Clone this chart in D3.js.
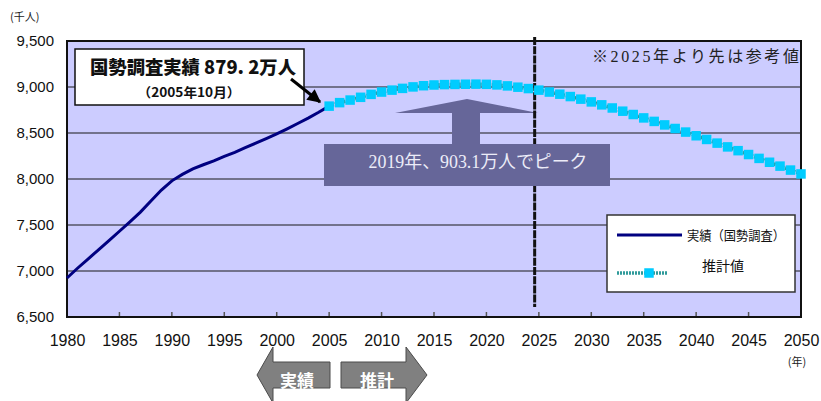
<!DOCTYPE html>
<html>
<head>
<meta charset="utf-8">
<script src="https://cdn.jsdelivr.net/npm/d3@7"></script>
<style>
  html, body { margin: 0; padding: 0; background: #ffffff; }
  svg { display: block; }
</style>
</head>
<body>
<svg id="chart" width="821" height="401"></svg>
<script>
// Census results (thousand people), 1980-2005
const actualYears = [1980,1981,1982,1983,1984,1985,1986,1987,1988,1989,1990,1991,1992,1993,1994,1995,1996,1997,1998,1999,2000,2001,2002,2003,2004,2005];
const actualValues = [6924,7030,7130,7230,7330,7432,7535,7640,7760,7880,7980,8050,8110,8155,8198,8246,8290,8340,8390,8440,8490,8545,8603,8662,8725,8792];

// Projection (thousand people), 2005-2050
const projYears = d3.range(2005, 2051);
const projValues = [8792,8830,8858,8888,8920,8945,8966,8985,9001,9014,
                    9022,9026,9028,9030,9031,9029,9023,9012,8998,8983,
                    8966,8945,8922,8896,8868,8838,8806,8772,8737,8701,
                    8664,8626,8588,8549,8510,8470,8430,8390,8349,8308,
                    8266,8224,8182,8140,8097,8055];

const xTickValues = [1980,1985,1990,1995,2000,2005,2010,2015,2020,2025,2030,2035,2040,2045,2050];
const yTickValues = [6500,7000,7500,8000,8500,9000,9500];

const seriesNames = ["実績（国勢調査）", "推計値"];
const calloutTitle = "国勢調査実績 879. 2万人";
const calloutSub = "（2005年10月）";
const peakText = "2019年、903.1万人でピーク";
const noteText = "※2025年より先は参考値";
const referenceYear = 2024.6;

const CJK = "'Noto Sans CJK JP', sans-serif";
const SERIF = "'Liberation Serif', 'Noto Sans CJK JP', serif";

const svg = d3.select("#chart");
const plotL = 67, plotR = 801, plotT = 41, plotB = 317;

const x = d3.scaleLinear().domain([1980, 2050]).range([plotL, plotR]);
const y = d3.scaleLinear().domain([6500, 9500]).range([plotB, plotT]);

// plot background
svg.append("rect")
  .attr("x", plotL).attr("y", plotT)
  .attr("width", plotR - plotL).attr("height", plotB - plotT)
  .attr("fill", "#ccccff");

// horizontal gridlines
svg.append("g")
  .selectAll("line")
  .data(yTickValues.slice(1, -1))
  .join("line")
  .attr("x1", plotL).attr("x2", plotR)
  .attr("y1", d => y(d)).attr("y2", d => y(d))
  .attr("stroke", "#555566").attr("stroke-width", 1.5);

// y axis labels
const yAxis = d3.axisLeft(y).tickValues(yTickValues).tickFormat(d3.format(",")).tickSize(0).tickPadding(13);
svg.append("g")
  .attr("transform", `translate(${plotL},0)`)
  .call(yAxis)
  .call(g => g.select(".domain").remove())
  .selectAll("text")
  .attr("font-family", "'Liberation Sans', Arial, sans-serif")
  .attr("font-size", 15)
  .attr("fill", "#111");

// x axis: labels + inner ticks
const xAxis = d3.axisBottom(x).tickValues(xTickValues).tickFormat(d3.format("d")).tickSize(0).tickPadding(18);
svg.append("g")
  .attr("transform", `translate(0,${plotB})`)
  .call(xAxis)
  .call(g => g.select(".domain").remove())
  .selectAll("text")
  .attr("font-family", "'Liberation Sans', Arial, sans-serif")
  .attr("font-size", 16)
  .attr("fill", "#111");

svg.append("g")
  .selectAll("line")
  .data(xTickValues.slice(1, -1))
  .join("line")
  .attr("x1", d => x(d)).attr("x2", d => x(d))
  .attr("y1", plotB).attr("y2", plotB - 5)
  .attr("stroke", "#555").attr("stroke-width", 1.5);

// plot border
svg.append("rect")
  .attr("x", plotL).attr("y", plotT)
  .attr("width", plotR - plotL).attr("height", plotB - plotT)
  .attr("fill", "none").attr("stroke", "#111").attr("stroke-width", 2);

// axis unit labels
svg.append("text").attr("x", 10).attr("y", 21)
  .attr("font-family", CJK).attr("font-size", 11).attr("fill", "#222")
  .text("(千人)");
svg.append("text").attr("x", 797).attr("y", 366).attr("text-anchor", "middle")
  .attr("font-family", CJK).attr("font-size", 11).attr("fill", "#222")
  .text("(年)");

// note
svg.append("text")
  .attr("x", 592).attr("y", 62)
  .attr("font-family", SERIF).attr("font-size", 16).attr("fill", "#222")
  .attr("textLength", 207).attr("lengthAdjust", "spacing")
  .text(noteText);

// peak annotation: up arrow
const arrowColor = "#666699";
svg.append("path")
  .attr("d", "M467,99 L538,113 L480,113 L480,146 L452,146 L452,113 L395,113 Z")
  .attr("fill", arrowColor);

// boundary year for reference values
svg.append("line")
  .attr("x1", x(referenceYear)).attr("x2", x(referenceYear))
  .attr("y1", 37).attr("y2", 307)
  .attr("stroke", "#111").attr("stroke-width", 3)
  .attr("stroke-dasharray", "8,1.2");

// peak label box
svg.append("rect")
  .attr("x", 324).attr("y", 144).attr("width", 286).attr("height", 42)
  .attr("fill", arrowColor);
svg.append("text")
  .attr("x", 478).attr("y", 168).attr("text-anchor", "middle")
  .attr("font-family", SERIF).attr("font-size", 18).attr("fill", "#ececf8")
  .attr("textLength", 219).attr("lengthAdjust", "spacingAndGlyphs")
  .text(peakText);

// series: actual
const line = d3.line().x(d => x(d[0])).y(d => y(d[1]));
svg.append("path")
  .datum(d3.zip(actualYears, actualValues))
  .attr("d", line)
  .attr("fill", "none").attr("stroke", "#000080").attr("stroke-width", 3);

// series: projection
const projData = d3.zip(projYears, projValues);
svg.append("path")
  .datum(projData)
  .attr("d", line)
  .attr("fill", "none").attr("stroke", "#2f9a9a").attr("stroke-width", 3.5)
  .attr("stroke-dasharray", "2,1");
const ms = 9.5;
svg.append("g")
  .selectAll("rect")
  .data(projData)
  .join("rect")
  .attr("x", d => x(d[0]) - ms / 2).attr("y", d => y(d[1]) - ms / 2)
  .attr("width", ms).attr("height", ms)
  .attr("fill", "#00ccff");

// callout
svg.append("rect")
  .attr("x", 75).attr("y", 49).attr("width", 229).attr("height", 56)
  .attr("fill", "#fff").attr("stroke", "#111").attr("stroke-width", 1.5);
svg.append("text")
  .attr("x", 193).attr("y", 74).attr("text-anchor", "middle")
  .attr("font-family", CJK).attr("font-size", 18).attr("font-weight", "900").attr("fill", "#111")
  .attr("textLength", 206).attr("lengthAdjust", "spacingAndGlyphs")
  .text(calloutTitle);
svg.append("text")
  .attr("x", 189).attr("y", 97).attr("text-anchor", "middle")
  .attr("font-family", CJK).attr("font-size", 13).attr("font-weight", "bold").attr("fill", "#111")
  .attr("textLength", 103).attr("lengthAdjust", "spacingAndGlyphs")
  .text(calloutSub);

const defs = svg.append("defs");
defs.append("marker")
  .attr("id", "head").attr("viewBox", "0 0 10 10")
  .attr("refX", 9).attr("refY", 5)
  .attr("markerWidth", 5).attr("markerHeight", 4.5)
  .attr("markerUnits", "strokeWidth")
  .attr("orient", "auto")
  .append("path").attr("d", "M0,0 L10,5 L0,10 Z").attr("fill", "#000");
svg.append("line")
  .attr("x1", 291).attr("y1", 79).attr("x2", 320).attr("y2", 102)
  .attr("stroke", "#000").attr("stroke-width", 3)
  .attr("marker-end", "url(#head)");

// legend
svg.append("rect")
  .attr("x", 607).attr("y", 215).attr("width", 188).attr("height", 77)
  .attr("fill", "#fff").attr("stroke", "#333").attr("stroke-width", 1.5);
svg.append("line")
  .attr("x1", 617).attr("x2", 682).attr("y1", 235).attr("y2", 235)
  .attr("stroke", "#000080").attr("stroke-width", 3);
svg.append("text")
  .attr("x", 687).attr("y", 240)
  .attr("font-family", CJK).attr("font-size", 13).attr("fill", "#111")
  .attr("textLength", 98).attr("lengthAdjust", "spacingAndGlyphs")
  .text(seriesNames[0]);
svg.append("line")
  .attr("x1", 617).attr("x2", 667).attr("y1", 273).attr("y2", 273)
  .attr("stroke", "#2f9a9a").attr("stroke-width", 3.5).attr("stroke-dasharray", "2,1");
svg.append("rect")
  .attr("x", 649 - ms / 2).attr("y", 273 - ms / 2).attr("width", ms).attr("height", ms)
  .attr("fill", "#00ccff");
svg.append("text")
  .attr("x", 723).attr("y", 271).attr("text-anchor", "middle")
  .attr("font-family", CJK).attr("font-size", 14).attr("fill", "#111")
  .text(seriesNames[1]);

// bottom direction arrows
const grayFill = "#808080", grayStroke = "#4a4a4a";
svg.append("path")
  .attr("d", "M257,375 L273,347 L273,362 L330,362 L330,388 L273,388 L273,403 Z")
  .attr("fill", grayFill).attr("stroke", grayStroke).attr("stroke-width", 1);
svg.append("path")
  .attr("d", "M427,375 L406,347 L406,362 L341,362 L341,388 L406,388 L406,403 Z")
  .attr("fill", grayFill).attr("stroke", grayStroke).attr("stroke-width", 1);
svg.append("text")
  .attr("x", 297).attr("y", 387).attr("text-anchor", "middle")
  .attr("font-family", CJK).attr("font-size", 17).attr("font-weight", "bold").attr("fill", "#fff")
  .text("実績");
svg.append("text")
  .attr("x", 377).attr("y", 387).attr("text-anchor", "middle")
  .attr("font-family", CJK).attr("font-size", 17).attr("font-weight", "bold").attr("fill", "#fff")
  .text("推計");
</script>
</body>
</html>
